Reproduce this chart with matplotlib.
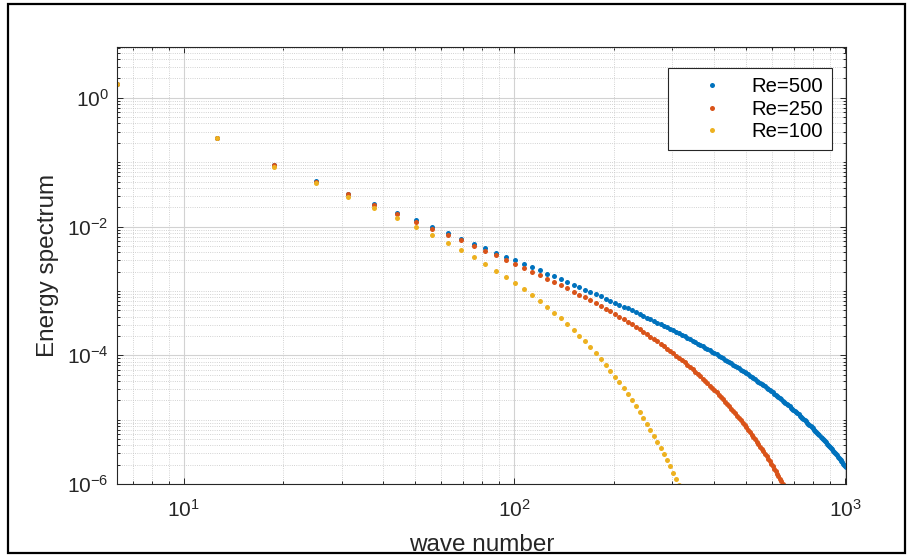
import numpy as np
import matplotlib
matplotlib.use("Agg")
import matplotlib.pyplot as plt
from matplotlib.ticker import FixedLocator, FuncFormatter, NullFormatter
from matplotlib.patches import Rectangle

plt.rcParams['font.family'] = ['Liberation Sans', 'DejaVu Sans']
plt.rcParams['mathtext.fontset'] = 'custom'
plt.rcParams['mathtext.rm'] = 'Liberation Sans'
plt.rcParams['mathtext.it'] = 'Liberation Sans:italic'

# wave numbers (multiples of 2*pi)
wave_number = [
    6.3, 12.6, 18.8, 25.1, 31.4, 37.7, 44.0, 50.3, 56.5, 62.8,
    69.1, 75.4, 81.7, 88.0, 94.2, 100.5, 106.8, 113.1, 119.4, 125.7,
    131.9, 138.2, 144.5, 150.8, 157.1, 163.4, 169.6, 175.9, 182.2, 188.5,
    194.8, 201.1, 207.3, 213.6, 219.9, 226.2, 232.5, 238.8, 245.0, 251.3,
    257.6, 263.9, 270.2, 276.5, 282.7, 289.0, 295.3, 301.6, 307.9, 314.2,
    320.4, 326.7, 333.0, 339.3, 345.6, 351.9, 358.1, 364.4, 370.7, 377.0,
    383.3, 389.6, 395.8, 402.1, 408.4, 414.7, 421.0, 427.3, 433.5, 439.8,
    446.1, 452.4, 458.7, 465.0, 471.2, 477.5, 483.8, 490.1, 496.4, 502.7,
    508.9, 515.2, 521.5, 527.8, 534.1, 540.4, 546.6, 552.9, 559.2, 565.5,
    571.8, 578.1, 584.3, 590.6, 596.9, 603.2, 609.5, 615.8, 622.0, 628.3,
    634.6, 640.9, 647.2, 653.5, 659.7, 666.0, 672.3, 678.6, 684.9, 691.2,
    697.4, 703.7, 710.0, 716.3, 722.6, 728.8, 735.1, 741.4, 747.7, 754.0,
    760.3, 766.5, 772.8, 779.1, 785.4, 791.7, 798.0, 804.2, 810.5, 816.8,
    823.1, 829.4, 835.7, 841.9, 848.2, 854.5, 860.8, 867.1, 873.4, 879.6,
    885.9, 892.2, 898.5, 904.8, 911.1, 917.3, 923.6, 929.9, 936.2, 942.5,
    948.8, 955.0, 961.3, 967.6, 973.9, 980.2, 986.5, 992.7, 999.0, 1005.3,
]

# log10 of the energy spectrum
log10_energy_re500 = [
    0.220, -0.625, -1.040, -1.298, -1.493, -1.652, -1.788, -1.905, -2.009, -2.103,
    -2.187, -2.265, -2.337, -2.404, -2.466, -2.524, -2.580, -2.632, -2.682, -2.730,
    -2.775, -2.819, -2.861, -2.901, -2.940, -2.978, -3.014, -3.050, -3.084, -3.118,
    -3.150, -3.182, -3.213, -3.244, -3.273, -3.302, -3.331, -3.359, -3.386, -3.413,
    -3.440, -3.466, -3.491, -3.517, -3.541, -3.566, -3.590, -3.614, -3.638, -3.661,
    -3.684, -3.707, -3.730, -3.752, -3.774, -3.796, -3.818, -3.839, -3.861, -3.882,
    -3.903, -3.924, -3.944, -3.965, -3.985, -4.006, -4.026, -4.046, -4.066, -4.086,
    -4.106, -4.125, -4.145, -4.164, -4.184, -4.203, -4.222, -4.241, -4.260, -4.279,
    -4.298, -4.317, -4.336, -4.355, -4.373, -4.392, -4.411, -4.429, -4.448, -4.466,
    -4.485, -4.503, -4.521, -4.540, -4.558, -4.576, -4.594, -4.613, -4.631, -4.649,
    -4.667, -4.685, -4.704, -4.722, -4.740, -4.758, -4.776, -4.794, -4.812, -4.830,
    -4.848, -4.866, -4.884, -4.902, -4.920, -4.938, -4.956, -4.974, -4.992, -5.010,
    -5.028, -5.046, -5.064, -5.082, -5.100, -5.118, -5.136, -5.154, -5.172, -5.191,
    -5.209, -5.227, -5.245, -5.263, -5.281, -5.299, -5.317, -5.335, -5.354, -5.372,
    -5.390, -5.408, -5.427, -5.445, -5.463, -5.481, -5.500, -5.518, -5.536, -5.555,
    -5.573, -5.591, -5.610, -5.628, -5.647, -5.665, -5.684, -5.702, -5.721, -5.740,
]

log10_energy_re250 = [
    0.220, -0.625, -1.045, -1.303, -1.500, -1.663, -1.801, -1.922, -2.030, -2.127,
    -2.216, -2.299, -2.375, -2.447, -2.515, -2.579, -2.640, -2.699, -2.755, -2.810,
    -2.862, -2.913, -2.962, -3.010, -3.057, -3.102, -3.147, -3.191, -3.234, -3.277,
    -3.318, -3.360, -3.400, -3.440, -3.480, -3.519, -3.558, -3.596, -3.634, -3.672,
    -3.710, -3.747, -3.784, -3.821, -3.858, -3.895, -3.931, -3.967, -4.004, -4.040,
    -4.076, -4.112, -4.148, -4.184, -4.219, -4.255, -4.291, -4.327, -4.362, -4.398,
    -4.434, -4.470, -4.505, -4.541, -4.577, -4.613, -4.649, -4.685, -4.721, -4.757,
    -4.793, -4.829, -4.865, -4.901, -4.938, -4.974, -5.011, -5.047, -5.084, -5.121,
    -5.158, -5.195, -5.232, -5.269, -5.306, -5.344, -5.381, -5.419, -5.457, -5.494,
    -5.532, -5.570, -5.609, -5.647, -5.685, -5.724, -5.762, -5.801, -5.840, -5.879,
    -5.918, -5.958, -5.997, -6.037, -6.076, -6.116,
]

log10_energy_re100 = [
    0.220, -0.630, -1.067, -1.330, -1.535, -1.712, -1.868, -2.009, -2.136, -2.255,
    -2.368, -2.480, -2.584, -2.684, -2.782, -2.878, -2.972, -3.065, -3.156, -3.247,
    -3.337, -3.427, -3.516, -3.606, -3.696, -3.785, -3.875, -3.965, -4.056, -4.146,
    -4.238, -4.330, -4.421, -4.511, -4.602, -4.692, -4.784, -4.876, -4.969, -5.062,
    -5.155, -5.249, -5.344, -5.438, -5.532, -5.628, -5.725, -5.823, -5.921, -6.020,
    -6.120,
]

labels = ["Re=500", "Re=250", "Re=100"]
colors = ["#0072BD", "#D95319", "#EDB120"]
series_logs = [log10_energy_re500, log10_energy_re250, log10_energy_re100]

W, H = 912, 557
fig = plt.figure(figsize=(W / 100, H / 100), dpi=100)
ax_left, ax_right, ax_top, ax_bottom = 117, 846, 46.5, 484
ax = fig.add_axes([ax_left / W, 1 - ax_bottom / H,
                   (ax_right - ax_left) / W, (ax_bottom - ax_top) / H])

for lab, logs, col in zip(labels, series_logs, colors):
    k = np.asarray(wave_number[:len(logs)])
    e = np.power(10.0, np.asarray(logs))
    ax.plot(k, e, linestyle='none', marker='o', markersize=3.6,
            markeredgewidth=0, color=col, label=lab)

ax.set_xscale('log')
ax.set_yscale('log')
ax.set_xlim(6.2832, 1005.3)
ax.set_ylim(1e-6, 6.28)

def pow_fmt(v, pos):
    return r'$\mathregular{10^{%d}}$' % int(round(np.log10(v)))

ax.xaxis.set_major_locator(FixedLocator([1e1, 1e2, 1e3]))
ax.xaxis.set_minor_locator(FixedLocator([m * 10.0 ** d for d in range(0, 3)
                                         for m in range(2, 10)]))
ax.yaxis.set_major_locator(FixedLocator([1e-6, 1e-4, 1e-2, 1e0]))
ymin = [m * 10.0 ** d for d in range(-6, 1) for m in range(1, 10)
        if not (m == 1 and d % 2 == 0)]
ax.yaxis.set_minor_locator(FixedLocator(ymin))
ax.xaxis.set_major_formatter(FuncFormatter(pow_fmt))
ax.yaxis.set_major_formatter(FuncFormatter(pow_fmt))
ax.xaxis.set_minor_formatter(NullFormatter())
ax.yaxis.set_minor_formatter(NullFormatter())

ax.tick_params(which='both', direction='in', top=True, right=True,
               color='#262626', width=0.7, labelcolor='#262626')
ax.tick_params(which='major', length=4, labelsize=15, pad=6)
ax.tick_params(which='minor', length=2.5)
ax.tick_params(axis='x', which='major', pad=11)

ax.grid(True, which='major', color='#d2d2d2', linewidth=0.8, linestyle='-')
ax.grid(True, which='minor', color='#c4c4c4', linewidth=0.6, linestyle=':')
ax.set_axisbelow(True)

for sp in ax.spines.values():
    sp.set_color('#262626')
    sp.set_linewidth(0.8)

ax.set_xlabel('wave number', fontsize=17.5, color='#262626', labelpad=9)
ax.set_ylabel('Energy spectrum', fontsize=17.5, color='#262626', labelpad=6)

leg = ax.legend(loc='upper right', bbox_to_anchor=(0.981, 0.951),
                fontsize=14.6, frameon=True, fancybox=False, framealpha=1,
                edgecolor='#262626', handlelength=3.4, handletextpad=0.25,
                labelspacing=0.18, borderpad=0.45, borderaxespad=0)
leg.get_frame().set_linewidth(0.8)

fig.patches.append(Rectangle((8 / W, 4 / H), (905 - 8) / W, (553 - 4) / H,
                             transform=fig.transFigure, fill=False,
                             edgecolor='black', linewidth=1.6))

fig.savefig('out.png', dpi=100)
